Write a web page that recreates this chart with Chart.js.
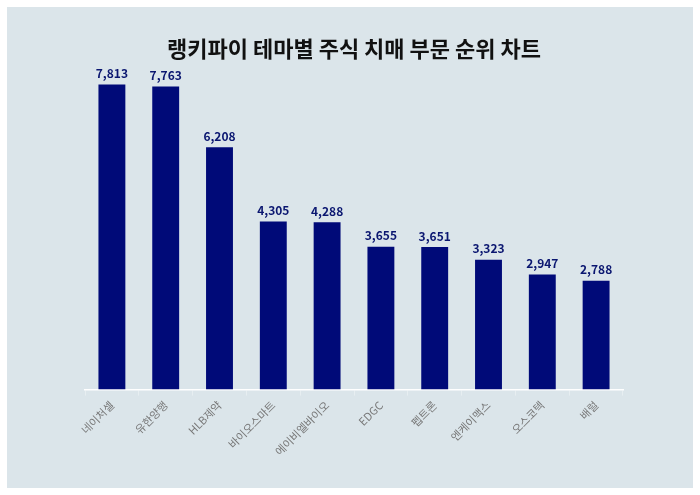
<!DOCTYPE html>
<html>
<head>
<meta charset="utf-8">
<script src="https://cdn.jsdelivr.net/npm/chart.js@4"></script>
<style>
  html, body { margin: 0; padding: 0; background: #ffffff; }
  #wrap { position: absolute; left: 7px; top: 7px; width: 686px; height: 481px; background: #dbe5ea; }
  canvas { display: block; }
</style>
</head>
<body>
<div id="wrap"><canvas id="grafico" width="686" height="481"></canvas></div>
<script>
// 데이터
const categorias = ['네이처셀', '유한양행', 'HLB제약', '바이오스마트', '에이비엘바이오', 'EDGC', '펩트론', '엔케이맥스', '오스코텍', '배럴'];
const valores = [7813, 7763, 6208, 4305, 4288, 3655, 3651, 3323, 2947, 2788];

const fonte = '"Noto Sans CJK KR", "Noto Sans", sans-serif';

// 막대 위에 값 표시
const rotulosValor = {
    id: 'rotulosValor',
    afterDatasetsDraw(chart) {
        const ctx = chart.ctx;
        const meta = chart.getDatasetMeta(0);
        ctx.save();
        ctx.font = 'bold 12px ' + fonte;
        ctx.fillStyle = '#0a1670';
        ctx.textAlign = 'center';
        ctx.textBaseline = 'bottom';
        meta.data.forEach((barra, i) => {
            ctx.fillText(valores[i].toLocaleString('en-US'), barra.x, barra.y - 5);
        });
        ctx.restore();
    }
};

const ctx = document.getElementById('grafico').getContext('2d');
new Chart(ctx, {
    type: 'bar',
    data: {
        labels: categorias,
        datasets: [{
            data: valores,
            backgroundColor: '#000a78',
            barPercentage: 0.5,
            categoryPercentage: 1.0
        }]
    },
    options: {
        responsive: false,
        animation: false,
        layout: { padding: { left: 78, right: 70, top: 0, bottom: 27 } },
        plugins: {
            legend: { display: false },
            tooltip: { enabled: false },
            title: {
                display: true,
                text: '랭키파이 테마별 주식 치매 부문 순위 차트',
                color: '#111111',
                font: { family: fonte, size: 22, weight: 'bold' },
                padding: { top: 28, bottom: 8 }
            }
        },
        scales: {
            x: {
                grid: { display: true, drawOnChartArea: false, color: 'rgba(255,255,255,0.35)', tickLength: 6 },
                border: { display: true, color: '#ffffff', width: 1.5 },
                ticks: {
                    color: '#777777',
                    font: { family: fonte, size: 11 },
                    maxRotation: 45,
                    minRotation: 45,
                    autoSkip: false
                }
            },
            y: {
                display: false,
                min: 0,
                max: 8200
            }
        }
    },
    plugins: [rotulosValor]
});
</script>
</body>
</html>
